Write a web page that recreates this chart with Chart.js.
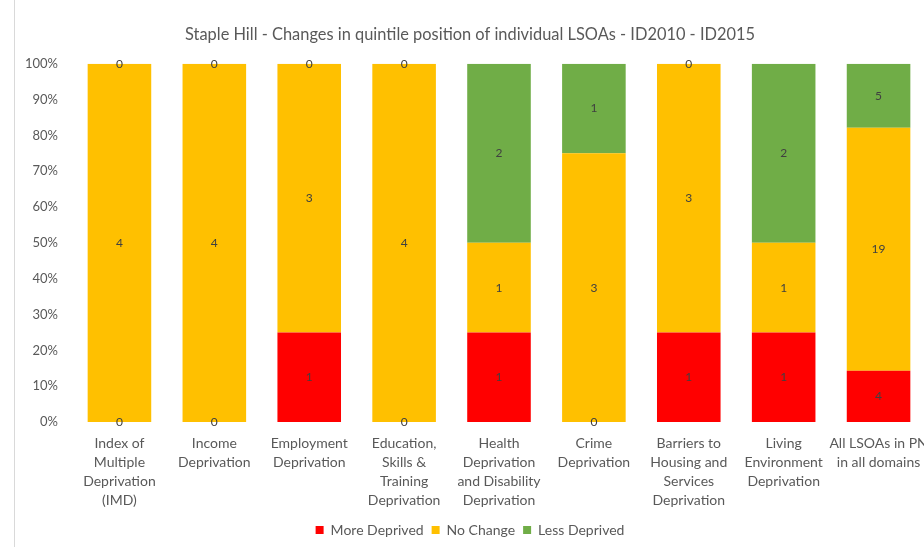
<!DOCTYPE html>
<html>
<head>
<meta charset="utf-8">
<script src="https://cdn.jsdelivr.net/npm/chart.js@4/dist/chart.umd.min.js"></script>
<style>
  html, body { margin: 0; padding: 0; background: #fff; overflow: hidden; }
  #wrap { position: relative; width: 960px; height: 547px; }
  #edge { position: absolute; left: 14px; top: 0; width: 1px; height: 547px; background: #d9d9d9; }
</style>
</head>
<body>
<div id="wrap">
  <canvas id="lsoaChart" width="960" height="547"></canvas>
  <div id="edge"></div>
</div>
<script>
// categories (multi-line labels like the original)
const categories = [
    ['Index of', 'Multiple', 'Deprivation', '(IMD)'],
    ['Income', 'Deprivation'],
    ['Employment', 'Deprivation'],
    ['Education,', 'Skills &', 'Training', 'Deprivation'],
    ['Health', 'Deprivation', 'and Disability', 'Deprivation'],
    ['Crime', 'Deprivation'],
    ['Barriers to', 'Housing and', 'Services', 'Deprivation'],
    ['Living', 'Environment', 'Deprivation'],
    ['All LSOAs in PN', 'in all domains']
];

// number of LSOAs in each group
const moreDeprived = [0, 0, 1, 0, 1, 0, 1, 1, 4];
const noChange     = [4, 4, 3, 4, 1, 3, 3, 1, 19];
const lessDeprived = [0, 0, 0, 0, 2, 1, 0, 2, 5];

const yTicks = [0, 10, 20, 30, 40, 50, 60, 70, 80, 90, 100];

const counts = [moreDeprived, noChange, lessDeprived];

// turn counts into share of each column (100% stacked)
function toPct(arr) {
    return arr.map((v, i) => {
        const total = moreDeprived[i] + noChange[i] + lessDeprived[i];
        return v / total * 100;
    });
}

// draw the count in the middle of each segment
const countLabels = {
    id: 'countLabels',
    afterDatasetsDraw(chart) {
        const c = chart.ctx;
        c.save();
        c.font = '12px Lato, sans-serif';
        c.fillStyle = '#404040';
        c.textAlign = 'center';
        c.textBaseline = 'middle';
        chart.data.datasets.forEach((ds, di) => {
            chart.getDatasetMeta(di).data.forEach((bar, i) => {
                const y = (bar.y + bar.base) / 2;
                c.fillText(String(counts[di][i]), bar.x, y);
            });
        });
        c.restore();
    }
};

const ctx = document.getElementById('lsoaChart').getContext('2d');

const lsoaChart = new Chart(ctx, {
    type: 'bar',
    data: {
        labels: categories,
        datasets: [
            { label: 'More Deprived', data: toPct(moreDeprived), backgroundColor: '#FF0000' },
            { label: 'No Change', data: toPct(noChange), backgroundColor: '#FFC000' },
            { label: 'Less Deprived', data: toPct(lessDeprived), backgroundColor: '#70AD47' }
        ]
    },
    options: {
        responsive: false,
        animation: false,
        layout: {
            padding: { left: 14, right: 34, top: 0, bottom: 0 }
        },
        datasets: {
            bar: { barPercentage: 0.67, categoryPercentage: 1.0 }
        },
        plugins: {
            title: {
                display: true,
                text: 'Staple Hill - Changes in quintile position of individual LSOAs - ID2010 - ID2015',
                color: '#595959',
                font: { family: 'Lato, sans-serif', size: 16.4, weight: 'normal' },
                padding: { top: 25, bottom: 19 }
            },
            legend: {
                position: 'bottom',
                labels: {
                    color: '#595959',
                    font: { family: 'Lato, sans-serif', size: 14 },
                    boxWidth: 8,
                    boxHeight: 8,
                    padding: 8
                }
            },
            tooltip: {
                callbacks: {
                    label: (item) => item.dataset.label + ': ' + counts[item.datasetIndex][item.dataIndex]
                }
            }
        },
        scales: {
            x: {
                stacked: true,
                grid: { display: false, drawTicks: false, tickLength: 0 },
                border: { display: false },
                afterFit: (scale) => { scale.height = 93; },
                ticks: {
                    color: '#595959',
                    font: { family: 'Lato, sans-serif', size: 14, lineHeight: 1.357 },
                    maxRotation: 0,
                    autoSkip: false,
                    padding: 12
                }
            },
            y: {
                stacked: true,
                min: 0,
                max: 100,
                grid: { display: false },
                border: { display: false },
                afterFit: (scale) => { scale.width = 58; },
                afterBuildTicks: (scale) => { scale.ticks = yTicks.map(v => ({ value: v })); },
                ticks: {
                    color: '#595959',
                    font: { family: 'Lato, sans-serif', size: 13 },
                    padding: 6,
                    callback: (v) => v + '%'
                }
            }
        }
    },
    plugins: [countLabels]
});
</script>
</body>
</html>
